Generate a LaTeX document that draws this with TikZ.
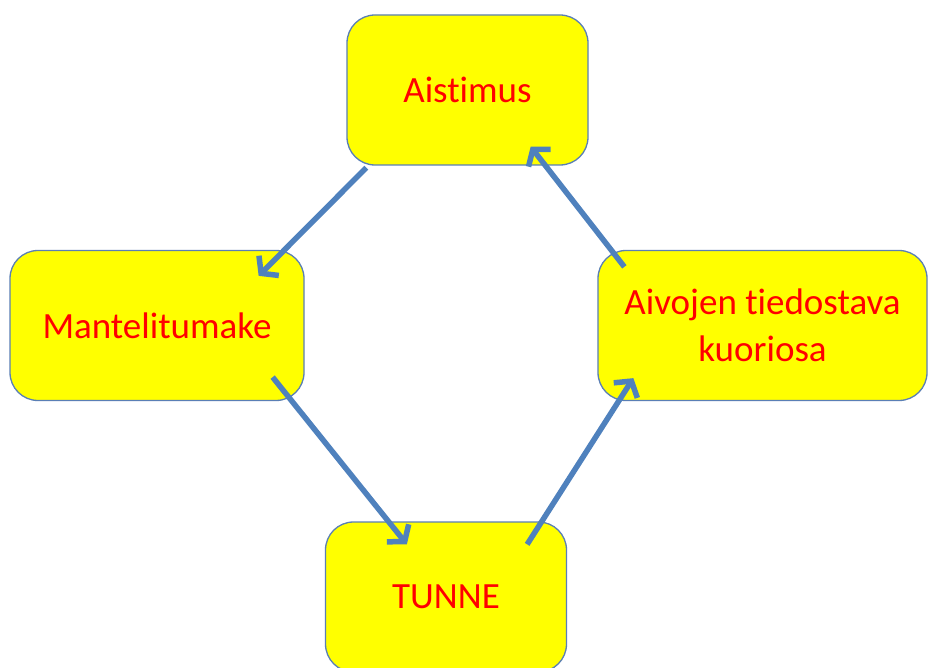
\documentclass[tikz,border=0pt]{standalone}
\usepackage{fontspec}
\setmainfont[Ligatures={NoCommon,NoRare},RawFeature={-liga;-dlig;-clig}]{Carlito}
\usetikzlibrary{arrows.meta,calc}
\definecolor{boxfill}{HTML}{FFFF00}
\definecolor{boxline}{HTML}{5A7FB5}
\definecolor{arrowblue}{HTML}{4F81BD}
\definecolor{txtred}{HTML}{FF0000}
\tikzset{
  box/.style={draw=boxline, line width=1.3pt, fill=boxfill, rounded corners=28pt,
    minimum width=241pt, minimum height=150pt, inner sep=0pt,
    text=txtred, font=\fontsize{37}{47}\selectfont, align=center},
  flow/.style={draw=arrowblue, line width=5.5pt,
    -{Straight Barb[length=11pt,width=28pt,line width=5.5pt]}}
}
\begin{document}
\begin{tikzpicture}[x=1pt,y=-1pt]
\clip (0,0) rectangle (929,668);
\fill[white] (0,0) rectangle (929,668);
\node[box] (ais) at (467.5,90) {Aistimus};
\node[box, minimum width=294pt] (man) at (157,325.5) {Mantelitumake};
\node[box, minimum width=329pt] (aiv) at (762.5,325.5) {Aivojen tiedostava\\kuoriosa};
\node[box] (tun) at (446,597) {TUNNE};
\draw[flow] ($(ais.south west)+(20,2)$) -- ($(man.north east)+(-46,26)$);
\draw[flow] ($(man.south east)+(-32,-24)$) -- ($(tun.north west)+(82,23)$);
\draw[flow] ($(tun.north east)+(-40,23)$) -- ($(aiv.south west)+(36,-23)$);
\draw[flow] ($(aiv.north west)+(27,17)$) -- ($(ais.south east)+(-58,-19)$);
\end{tikzpicture}
\end{document}
